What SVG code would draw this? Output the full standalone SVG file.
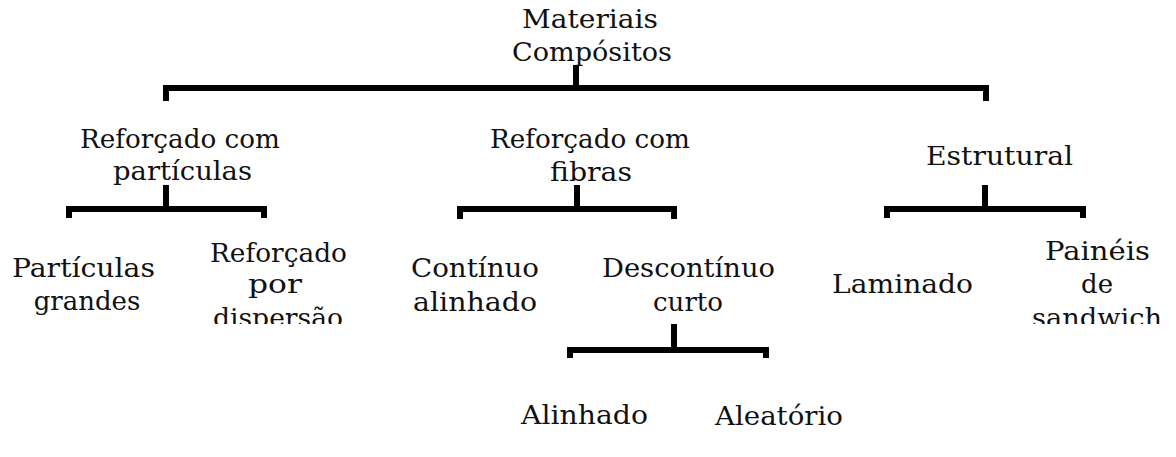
<svg xmlns="http://www.w3.org/2000/svg" width="1176" height="457" viewBox="0 0 1176 457">
  <style>
    text { font-family: "DejaVu Serif", "Liberation Serif", serif; font-size: 26px; fill: #111; text-anchor: middle; }
    .conn { fill: none; stroke: #000; stroke-width: 6; stroke-linejoin: miter; stroke-linecap: butt; }
  </style>
  <defs>
    <clipPath id="cut">
      <rect x="0" y="0" width="1176" height="324"/>
    </clipPath>
  </defs>
  <rect width="1176" height="457" fill="#fff"/>

  <g id="connectors">
    <path class="conn" d="M166,101 V88 H986 V101"/>
    <path class="conn" d="M576,65 V88"/>
    <path class="conn" d="M69,218 V209 H264 V218"/>
    <path class="conn" d="M166,185 V209"/>
    <path class="conn" d="M460,219 V209 H674 V219"/>
    <path class="conn" d="M577,185 V209"/>
    <path class="conn" d="M887,218 V209 H1083 V218"/>
    <path class="conn" d="M985,185 V209"/>
    <path class="conn" d="M570,358 V350 H766 V358"/>
    <path class="conn" d="M674,324 V350"/>
  </g>

  <g id="root">
    <text x="590" y="28" textLength="136" lengthAdjust="spacingAndGlyphs">Materiais</text>
    <text x="592" y="61" textLength="160" lengthAdjust="spacingAndGlyphs">Compósitos</text>
  </g>

  <g id="particulas">
    <text x="180" y="148" textLength="200" lengthAdjust="spacingAndGlyphs">Reforçado com</text>
    <text x="182.5" y="180" textLength="139" lengthAdjust="spacingAndGlyphs">partículas</text>
  </g>

  <g id="fibras">
    <text x="590" y="148" textLength="200" lengthAdjust="spacingAndGlyphs">Reforçado com</text>
    <text x="591" y="181" textLength="82" lengthAdjust="spacingAndGlyphs">fibras</text>
  </g>

  <g id="estrutural">
    <text x="999.5" y="165" textLength="147" lengthAdjust="spacingAndGlyphs">Estrutural</text>
  </g>

  <g id="particulas-grandes">
    <text x="83.5" y="277" textLength="143" lengthAdjust="spacingAndGlyphs">Partículas</text>
    <text x="87" y="310">grandes</text>
  </g>

  <g id="dispersao" clip-path="url(#cut)">
    <text x="278.5" y="262" textLength="137" lengthAdjust="spacingAndGlyphs">Reforçado</text>
    <text x="275" y="293" textLength="54" lengthAdjust="spacingAndGlyphs">por</text>
    <text x="278" y="327" textLength="130" lengthAdjust="spacingAndGlyphs">dispersão</text>
  </g>

  <g id="continuo">
    <text x="475" y="277" textLength="128" lengthAdjust="spacingAndGlyphs">Contínuo</text>
    <text x="475" y="311" textLength="124" lengthAdjust="spacingAndGlyphs">alinhado</text>
  </g>

  <g id="descontinuo">
    <text x="688.5" y="277" textLength="173" lengthAdjust="spacingAndGlyphs">Descontínuo</text>
    <text x="688" y="311" textLength="70" lengthAdjust="spacingAndGlyphs">curto</text>
  </g>

  <g id="laminado">
    <text x="902.5" y="293" textLength="141" lengthAdjust="spacingAndGlyphs">Laminado</text>
  </g>

  <g id="sandwich" clip-path="url(#cut)">
    <text x="1097.5" y="260" textLength="105" lengthAdjust="spacingAndGlyphs">Painéis</text>
    <text x="1097" y="293">de</text>
    <text x="1097" y="327" textLength="130" lengthAdjust="spacingAndGlyphs">sandwich</text>
  </g>

  <g id="alinhado">
    <text x="584.5" y="424" textLength="127" lengthAdjust="spacingAndGlyphs">Alinhado</text>
  </g>

  <g id="aleatorio">
    <text x="779" y="425" textLength="128" lengthAdjust="spacingAndGlyphs">Aleatório</text>
  </g>
</svg>
